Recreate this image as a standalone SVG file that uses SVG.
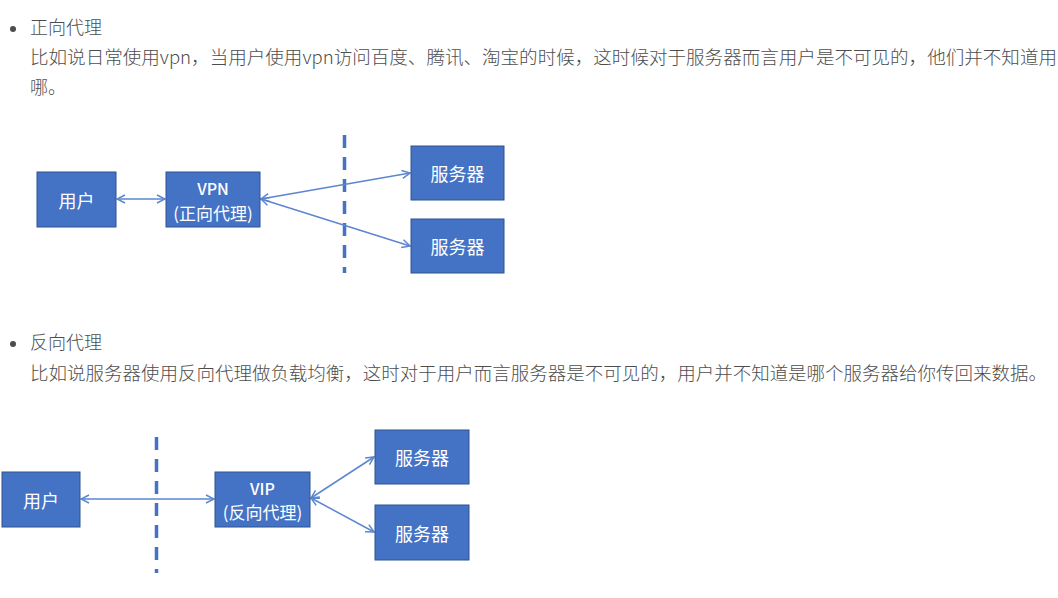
<svg xmlns="http://www.w3.org/2000/svg" width="1058" height="598" viewBox="0 0 1058 598">
<style>
.t{font-family:"Noto Sans CJK SC","Noto Sans",sans-serif;fill:#4d4d4d;font-size:18px;font-weight:300}
.box{fill:#4472c4;stroke:#2f528f;stroke-width:1}
.bt{font-family:"Noto Sans CJK SC","Noto Sans",sans-serif;fill:#ffffff;text-anchor:middle;dominant-baseline:central}
.c{stroke:#5b86d0;stroke-width:1.5;fill:none;marker-start:url(#ah);marker-end:url(#ah)}
.dash{stroke:#4472c4;stroke-width:3.5;stroke-dasharray:13 9}
</style>
<defs>
<marker id="ah" viewBox="0 0 10 10" refX="9" refY="5" markerWidth="10" markerHeight="10" markerUnits="userSpaceOnUse" orient="auto-start-reverse">
<path d="M1,1 L9,5 L1,9" fill="none" stroke="#5b86d0" stroke-width="1.5"/>
</marker>
</defs>
<rect width="1058" height="598" fill="#ffffff"/>
<g id="text">
<circle cx="13" cy="29" r="3" fill="#4d4d4d"/>
<text class="t" x="30" y="34">正向代理</text>
<text class="t" x="30" y="64" textLength="1027" lengthAdjust="spacingAndGlyphs">比如说日常使用vpn，当用户使用vpn访问百度、腾讯、淘宝的时候，这时候对于服务器而言用户是不可见的，他们并不知道用</text>
<text class="t" x="30" y="94">哪。</text>
<circle cx="13" cy="344" r="3" fill="#4d4d4d"/>
<text class="t" x="30" y="349">反向代理</text>
<text class="t" x="30" y="380" textLength="1017" lengthAdjust="spacingAndGlyphs">比如说服务器使用反向代理做负载均衡，这时对于用户而言服务器是不可见的，用户并不知道是哪个服务器给你传回来数据。</text>
</g>
<g id="connectors">
<line class="dash" x1="344.5" y1="135" x2="344.5" y2="273"/>
<line class="c" x1="117" y1="199" x2="165" y2="199"/>
<line class="c" x1="261" y1="199" x2="410" y2="173"/>
<line class="c" x1="261" y1="199" x2="410" y2="246"/>
<line class="dash" x1="156.5" y1="437" x2="156.5" y2="573"/>
<line class="c" x1="81" y1="499" x2="214" y2="499"/>
<line class="c" x1="311" y1="498" x2="374" y2="457"/>
<line class="c" x1="311" y1="498" x2="374" y2="532"/>
</g>
<g id="user1"><rect class="box" x="37" y="172" width="79" height="55"/><text class="bt" x="76.5" y="199.5" font-size="18">用户</text></g>
<g id="vpn"><rect class="box" x="166" y="172" width="94" height="55"/><text class="bt" x="213" y="188" font-size="16" font-weight="500">VPN</text><text class="bt" x="213" y="212" font-size="17">(正向代理)</text></g>
<g id="server1"><rect class="box" x="411" y="146" width="93" height="54"/><text class="bt" x="457.5" y="173" font-size="18">服务器</text></g>
<g id="server2"><rect class="box" x="411" y="219" width="93" height="54"/><text class="bt" x="457.5" y="246" font-size="18">服务器</text></g>
<g id="user2"><rect class="box" x="2" y="472" width="78" height="55"/><text class="bt" x="41" y="499.5" font-size="18">用户</text></g>
<g id="vip"><rect class="box" x="215" y="472" width="95" height="55"/><text class="bt" x="262.5" y="488" font-size="16" font-weight="500">VIP</text><text class="bt" x="262.5" y="511" font-size="17">(反向代理)</text></g>
<g id="server3"><rect class="box" x="375" y="430" width="94" height="54"/><text class="bt" x="422" y="457" font-size="18">服务器</text></g>
<g id="server4"><rect class="box" x="375" y="505" width="94" height="55"/><text class="bt" x="422" y="532.5" font-size="18">服务器</text></g>
</svg>
